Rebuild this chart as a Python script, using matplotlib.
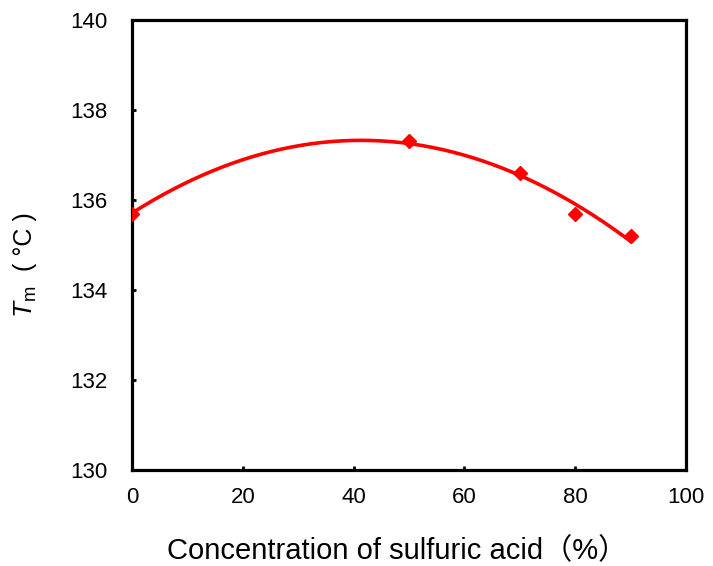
import numpy as np
import matplotlib.pyplot as plt

plt.rcParams['font.family'] = ['Liberation Sans', 'Noto Sans CJK SC']
plt.rcParams['mathtext.fontset'] = 'custom'
plt.rcParams['mathtext.rm'] = 'Liberation Sans'
plt.rcParams['mathtext.it'] = 'Liberation Sans:italic'

# melting temperature vs acid concentration
conc = np.array([0, 50, 70, 80, 90])
tm = np.array([135.7, 137.3, 136.6, 135.7, 135.2])

# second order trendline through the measured points
coef = np.polyfit(conc, tm, 2)
xs = np.linspace(0, 90, 200)
fit = np.polyval(coef, xs)

W, H = 713, 566
fig = plt.figure(figsize=(W / 100, H / 100), dpi=100)
ax = fig.add_axes([132 / W, 96 / H, 554 / W, 450 / H])

ax.plot(xs, fit, color='red', linewidth=2.6, zorder=3)
ax.plot(conc, tm, linestyle='none', marker='D', markersize=7, color='red', zorder=4)

ax.set_xlim(0, 100)
ax.set_ylim(130, 140)
ax.set_xticks(np.arange(0, 101, 20))
ax.set_yticks(np.arange(130, 141, 2))

for s in ax.spines.values():
    s.set_linewidth(2.3)
ax.tick_params(direction='in', length=3, width=2, labelsize=16)
ax.tick_params(axis='x', pad=12)
ax.tick_params(axis='y', pad=18)

ax.set_xlabel('Concentration of sulfuric acid（%）', fontsize=21)
ax.xaxis.set_label_coords(0.478, -0.149)

# y label: italic T with subscript m, then the unit in brackets
fig.text(26 / W, 1 - 302 / H, r'$T_\mathrm{m}$', rotation=90, fontsize=19,
         ha='center', va='center')
fig.text(25 / W, 1 - 242 / H, '( °C )', rotation=90, fontsize=18,
         ha='center', va='center')

fig.savefig('out.png', dpi=100)
